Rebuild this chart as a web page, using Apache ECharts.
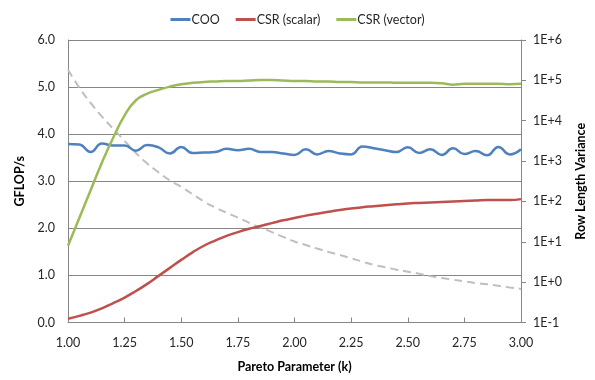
<!DOCTYPE html>
<html>
<head>
<meta charset="utf-8">
<script src="https://cdn.jsdelivr.net/npm/echarts@6/dist/echarts.min.js"></script>
<style>
  html, body { margin: 0; padding: 0; background: #fff; }
  #chart { width: 595px; height: 380px; }
</style>
</head>
<body>
<div id="chart"></div>
<script>
// Pareto shape parameter k (x positions of every sample)
const kValues = [1.00, 1.05, 1.10, 1.15, 1.20, 1.25, 1.30, 1.35, 1.40, 1.45,
                 1.50, 1.55, 1.60, 1.65, 1.70, 1.75, 1.80, 1.85, 1.90, 1.95,
                 2.00, 2.05, 2.10, 2.15, 2.20, 2.25, 2.30, 2.35, 2.40, 2.45,
                 2.50, 2.55, 2.60, 2.65, 2.70, 2.75, 2.80, 2.85, 2.90, 2.95, 3.00];

// GFLOP/s per format
const cooGflops = [3.79, 3.78, 3.62, 3.80, 3.76, 3.76, 3.65, 3.77, 3.72, 3.59,
                   3.73, 3.60, 3.61, 3.62, 3.69, 3.66, 3.69, 3.62, 3.62, 3.59,
                   3.56, 3.68, 3.57, 3.64, 3.59, 3.57, 3.74, 3.70, 3.66, 3.62,
                   3.72, 3.60, 3.68, 3.56, 3.70, 3.58, 3.64, 3.55, 3.73, 3.57, 3.68];

const csrScalarGflops = [0.08, 0.14, 0.21, 0.30, 0.41, 0.53, 0.67, 0.82, 0.99, 1.16,
                         1.33, 1.49, 1.63, 1.74, 1.84, 1.92, 1.99, 2.05, 2.11, 2.17,
                         2.22, 2.27, 2.31, 2.35, 2.39, 2.42, 2.45, 2.47, 2.49, 2.51,
                         2.53, 2.54, 2.55, 2.56, 2.57, 2.58, 2.59, 2.60, 2.60, 2.60, 2.62];

const csrVectorGflops = [1.63, 2.22, 2.81, 3.40, 3.93, 4.40, 4.72, 4.86, 4.94, 5.01,
                         5.06, 5.09, 5.11, 5.12, 5.13, 5.13, 5.14, 5.15, 5.15, 5.14,
                         5.13, 5.13, 5.12, 5.12, 5.11, 5.11, 5.10, 5.10, 5.10, 5.09,
                         5.09, 5.09, 5.09, 5.08, 5.05, 5.07, 5.07, 5.07, 5.07, 5.06, 5.07];

// Row length variance (secondary, logarithmic axis)
const rowLengthVariance = [182000, 66000, 27500, 12600, 6300, 3160, 1580, 870, 525, 331,
                           229, 151, 100, 70.8, 52.5, 39.8, 29.5, 22.4, 17.4, 13.2,
                           10.2, 8.3, 6.8, 5.6, 4.7, 3.9, 3.2, 2.69, 2.34, 2.04,
                           1.82, 1.62, 1.41, 1.26, 1.15, 1.05, 0.95, 0.89, 0.81, 0.74, 0.68];

const seriesNames = ['COO', 'CSR (scalar)', 'CSR (vector)'];
const leftTicks = { min: 0, max: 6, interval: 1 };
const xTicks = { min: 1, max: 3, interval: 0.25 };

const pairs = ys => kValues.map((k, i) => [k, ys[i]]);

const FONT = 'Lato';
const AXIS_GREY = '#868686';
const TEXT = '#262626';

const chart = echarts.init(document.getElementById('chart'), null, { renderer: 'canvas' });

chart.setOption({
  animation: false,
  backgroundColor: '#ffffff',
  textStyle: { fontFamily: FONT, color: TEXT },
  grid: { left: 68, right: 70, top: 40, bottom: 57.5, containLabel: false },
  legend: {
    data: seriesNames,
    top: 8,
    left: 'center',
    itemWidth: 20,
    itemHeight: 3,
    itemGap: 16,
    icon: 'rect',
    textStyle: { fontFamily: FONT, fontSize: 12.5, color: TEXT, padding: [0, 0, 0, -4] }
  },
  xAxis: {
    type: 'value',
    min: xTicks.min, max: xTicks.max, interval: xTicks.interval,
    name: 'Pareto Parameter (k)',
    nameLocation: 'middle',
    nameGap: 38,
    nameTextStyle: { fontFamily: FONT, fontWeight: 'bold', fontSize: 12.5, color: '#000' },
    axisLine: { lineStyle: { color: AXIS_GREY, width: 1 } },
    axisTick: { show: true, inside: true, length: 5, lineStyle: { color: AXIS_GREY } },
    axisLabel: { fontFamily: FONT, fontSize: 12.5, color: TEXT, margin: 14,
                 formatter: v => v.toFixed(2) },
    splitLine: { show: false }
  },
  yAxis: [
    {
      type: 'value',
      min: leftTicks.min, max: leftTicks.max, interval: leftTicks.interval,
      name: 'GFLOP/s',
      nameLocation: 'middle',
      nameGap: 40,
      nameRotate: 90,
      nameTextStyle: { fontFamily: FONT, fontWeight: 'bold', fontSize: 12.5, color: '#000' },
      axisLine: { show: true, lineStyle: { color: AXIS_GREY, width: 1 } },
      axisTick: { show: false },
      axisLabel: { fontFamily: FONT, fontSize: 12.5, color: TEXT, margin: 13,
                   formatter: v => v.toFixed(1) },
      splitLine: { show: true, lineStyle: { color: AXIS_GREY, width: 1 } }
    },
    {
      type: 'log',
      logBase: 10,
      min: 0.1, max: 1e6,
      position: 'right',
      name: 'Row Length Variance',
      nameLocation: 'middle',
      nameGap: 53,
      nameRotate: 90,
      nameTextStyle: { fontFamily: FONT, fontWeight: 'bold', fontSize: 12.5, color: '#000' },
      axisLine: { show: true, lineStyle: { color: AXIS_GREY, width: 1 } },
      axisTick: { show: true, inside: false, length: 5, lineStyle: { color: AXIS_GREY } },
      axisLabel: {
        fontFamily: FONT, fontSize: 12.5, color: TEXT, margin: 12,
        formatter: v => {
          const e = Math.round(Math.log10(v));
          return '1E' + (e < 0 ? '-' : '+') + Math.abs(e);
        }
      },
      splitLine: { show: false }
    }
  ],
  series: [
    {
      name: 'Row Length Variance',
      type: 'line',
      yAxisIndex: 1,
      data: pairs(rowLengthVariance),
      smooth: 0.5,
      showSymbol: false,
      z: 1,
      lineStyle: { color: '#BFBFBF', width: 2, type: [8, 5] }
    },
    {
      name: seriesNames[0],
      type: 'line',
      data: pairs(cooGflops),
      smooth: 0.5,
      showSymbol: false,
      z: 3,
      color: '#4F81BD',
      lineStyle: { color: '#4F81BD', width: 2.5 }
    },
    {
      name: seriesNames[1],
      type: 'line',
      data: pairs(csrScalarGflops),
      smooth: 0.5,
      showSymbol: false,
      z: 3,
      color: '#C0504D',
      lineStyle: { color: '#C0504D', width: 2.5 }
    },
    {
      name: seriesNames[2],
      type: 'line',
      data: pairs(csrVectorGflops),
      smooth: 0.5,
      showSymbol: false,
      z: 3,
      color: '#9BBB59',
      lineStyle: { color: '#9BBB59', width: 2.5 }
    }
  ]
});
</script>
</body>
</html>
